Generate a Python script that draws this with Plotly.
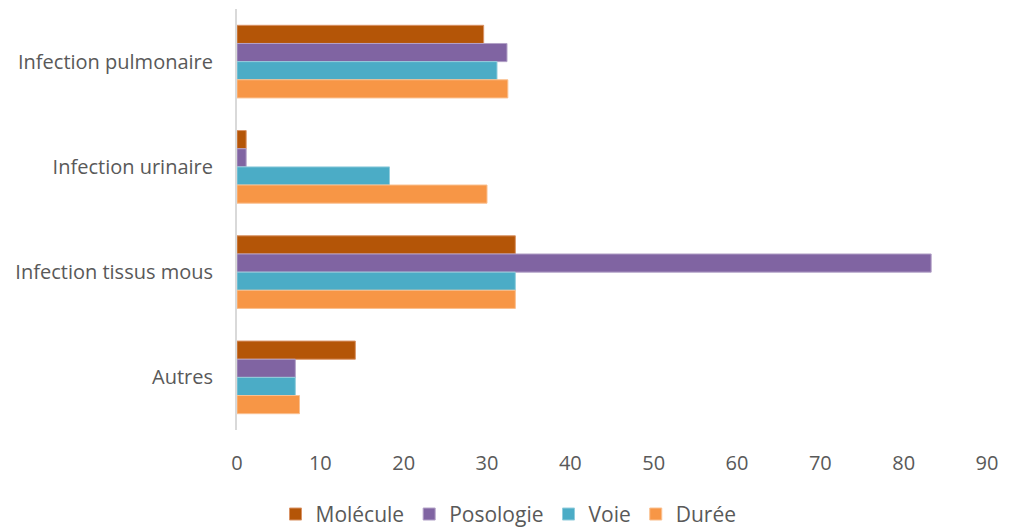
import plotly.graph_objects as go

categories = ["Infection pulmonaire", "Infection urinaire", "Infection tissus mous", "Autres"]
molecule = [29.6, 1.1, 33.4, 14.2]
posologie = [32.4, 1.1, 83.3, 7.0]
voie = [31.2, 18.3, 33.4, 7.0]
duree = [32.5, 30.0, 33.4, 7.5]

series = [
    ("Molécule", molecule, "#B45507", "#D99366"),
    ("Posologie", posologie, "#8064A2", "#B3A2C7"),
    ("Voie", voie, "#4BACC6", "#93CDDD"),
    ("Durée", duree, "#F79646", "#FAC090"),
]

fig = go.Figure()
for name, vals, color, edge in series:
    fig.add_trace(
        go.Bar(
            x=vals,
            y=categories,
            name=name,
            orientation="h",
            marker={"color": color, "line": {"color": edge, "width": 1}},
        )
    )

font = "Open Sans, Liberation Sans, sans-serif"
# page body adds an 8px offset, so the figure is 8px smaller than the window
fig.update_layout(
    barmode="group",
    bargap=0.31,
    bargroupgap=0,
    width=1004,
    height=523,
    plot_bgcolor="white",
    paper_bgcolor="white",
    margin={"l": 229, "r": 25, "t": 1, "b": 101, "autoexpand": False},
    font={"family": font, "size": 20, "color": "#595959"},
    xaxis={
        "range": [0, 90],
        "dtick": 10,
        "automargin": False,
        "showgrid": False,
        "zeroline": False,
        "showline": False,
        "ticks": "",
        "ticklabelstandoff": 19,
        "tickfont": {"size": 20, "color": "#595959"},
    },
    yaxis={
        "autorange": "reversed",
        "automargin": False,
        "showgrid": False,
        "showline": True,
        "linecolor": "#D9D9D9",
        "linewidth": 2,
        "ticks": "",
        "ticklabelstandoff": 18,
        "tickfont": {"size": 20, "color": "#595959"},
    },
    legend={
        "orientation": "h",
        "x": 0.362,
        "xanchor": "center",
        "yref": "container",
        "y": 0.071,
        "yanchor": "top",
        "font": {"size": 21, "color": "#595959"},
        "itemwidth": 30,
    },
)

fig.write_html("out.html")
